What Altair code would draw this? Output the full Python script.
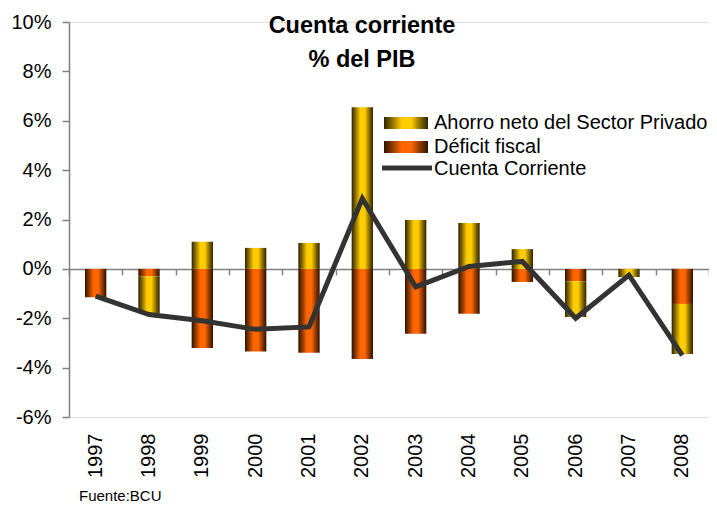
import altair as alt
import pandas as pd

FONT = "Liberation Sans"

years = ["1997", "1998", "1999", "2000", "2001", "2002",
         "2003", "2004", "2005", "2006", "2007", "2008"]
ahorro = [0.0, -1.5, 1.1, 0.85, 1.05, 6.55, 1.98, 1.86, 0.8, -1.45, -0.33, -2.03]
deficit = [-1.15, -0.3, -3.2, -3.35, -3.4, -3.65, -2.63, -1.82, -0.53, -0.5, 0.0, -1.42]
cuenta = [-1.1, -1.85, -2.1, -2.45, -2.35, 2.85, -0.73, 0.1, 0.3, -2.0, -0.25, -3.5]

serie_labels = ["Ahorro neto del Sector Privado", "Déficit fiscal", "Cuenta Corriente"]
y_ticks = [-6, -4, -2, 0, 2, 4, 6, 8, 10]

df = pd.DataFrame({"year": years, "ahorro": ahorro, "deficit": deficit, "cuenta": cuenta})
df["def0"] = 0.0
df["def1"] = df["deficit"]
base = df["deficit"].where(df["ahorro"] * df["deficit"] > 0, 0.0)
df["aho0"] = base
df["aho1"] = base + df["ahorro"]

W, H = 640, 395
ymin, ymax = -6, 10
zero_offset = -H * (0 - ymin) / (ymax - ymin)


def grad(dark, mid, bright):
    return alt.Gradient(
        gradient="linear", x1=0, x2=1, y1=0, y2=0,
        stops=[
            alt.GradientStop(color=dark, offset=0),
            alt.GradientStop(color=mid, offset=0.18),
            alt.GradientStop(color=bright, offset=0.4),
            alt.GradientStop(color=bright, offset=0.62),
            alt.GradientStop(color=mid, offset=0.82),
            alt.GradientStop(color=dark, offset=1),
        ],
    )


YELLOW = grad("#2e2400", "#8a6e00", "#ffcc00")
ORANGE = grad("#2e1200", "#8a3800", "#ff6600")

yscale = alt.Scale(domain=[ymin, ymax], nice=False, zero=False)
yaxis = alt.Axis(values=y_ticks, labelExpr="datum.value + '%'", grid=False,
                 domainColor="#808080", domainWidth=1.5, tickColor="#808080",
                 tickWidth=1.5, tickSize=7, labelPadding=11, labelFontSize=20,
                 labelFont=FONT, labelColor="#000000", title=None)
xscale = alt.Scale(paddingInner=0, paddingOuter=0)

x_labels = alt.X("year:N", sort=years, scale=xscale,
                 axis=alt.Axis(orient="bottom", labelAngle=270, labelFontSize=20,
                               labelFont=FONT, labelColor="#000000", labelPadding=16,
                               ticks=False, tickSize=0, domain=False, title=None))
x_zero = alt.X("year:N", sort=years, scale=xscale,
               axis=alt.Axis(orient="bottom", offset=zero_offset, labels=False,
                             domain=True, domainColor="#808080", domainWidth=1.5,
                             ticks=True, tickBand="extent", tickSize=6,
                             tickColor="#808080", tickWidth=1.5, title=None))
x_none = alt.X("year:N", sort=years, scale=xscale, axis=None)

base_chart = alt.Chart(df)

bars_def = base_chart.mark_bar(width=alt.RelativeBandSize(0.4), color=ORANGE).encode(
    x=x_labels,
    y=alt.Y("def0:Q", scale=yscale, axis=yaxis),
    y2="def1:Q",
)
bars_aho = base_chart.mark_bar(width=alt.RelativeBandSize(0.4), color=YELLOW).encode(
    x=x_zero,
    y=alt.Y("aho0:Q", scale=yscale, axis=yaxis),
    y2="aho1:Q",
)
line = base_chart.mark_line(color="#333333", strokeWidth=5).encode(
    x=x_none,
    y=alt.Y("cuenta:Q", scale=yscale, axis=yaxis),
)

one = alt.Data(values=[{}])

def txt(text, x, y, size=20, weight="normal", align="left", baseline="middle"):
    return alt.Chart(one).mark_text(
        text=text, font=FONT, fontSize=size, fontWeight=weight, align=align,
        baseline=baseline, color="#000000"
    ).encode(x=alt.value(x), y=alt.value(y))

leg_y = alt.Chart(one).mark_rect(color=YELLOW).encode(
    x=alt.value(315), x2=alt.value(359), y=alt.value(95), y2=alt.value(107))
leg_o = alt.Chart(one).mark_rect(color=ORANGE).encode(
    x=alt.value(315), x2=alt.value(359), y=alt.value(119), y2=alt.value(131))
leg_l = alt.Chart(one).mark_rule(color="#333333", strokeWidth=5).encode(
    x=alt.value(313), x2=alt.value(363), y=alt.value(146))

layers = [
    bars_def, bars_aho, line,
    leg_y, leg_o, leg_l,
    txt(serie_labels[0], 365, 101),
    txt(serie_labels[1], 365, 125),
    txt(serie_labels[2], 365, 147),
    txt("Cuenta corriente", 293, 4, size=23.5, weight="bold", align="center"),
    txt("% del PIB", 293, 38, size=23.5, weight="bold", align="center"),
    txt("Fuente:BCU", 10, 479, size=15, baseline="alphabetic"),
]

chart = alt.layer(*layers).resolve_axis(x="independent").properties(
    width=W, height=H,
    autosize=alt.AutoSizeParams(type="none"),
    padding={"left": 61, "top": 14, "right": 0, "bottom": 86},
).configure_view(stroke=None).configure(background="white")

chart.save("out.html", embed_options={"renderer": "svg", "actions": False})
